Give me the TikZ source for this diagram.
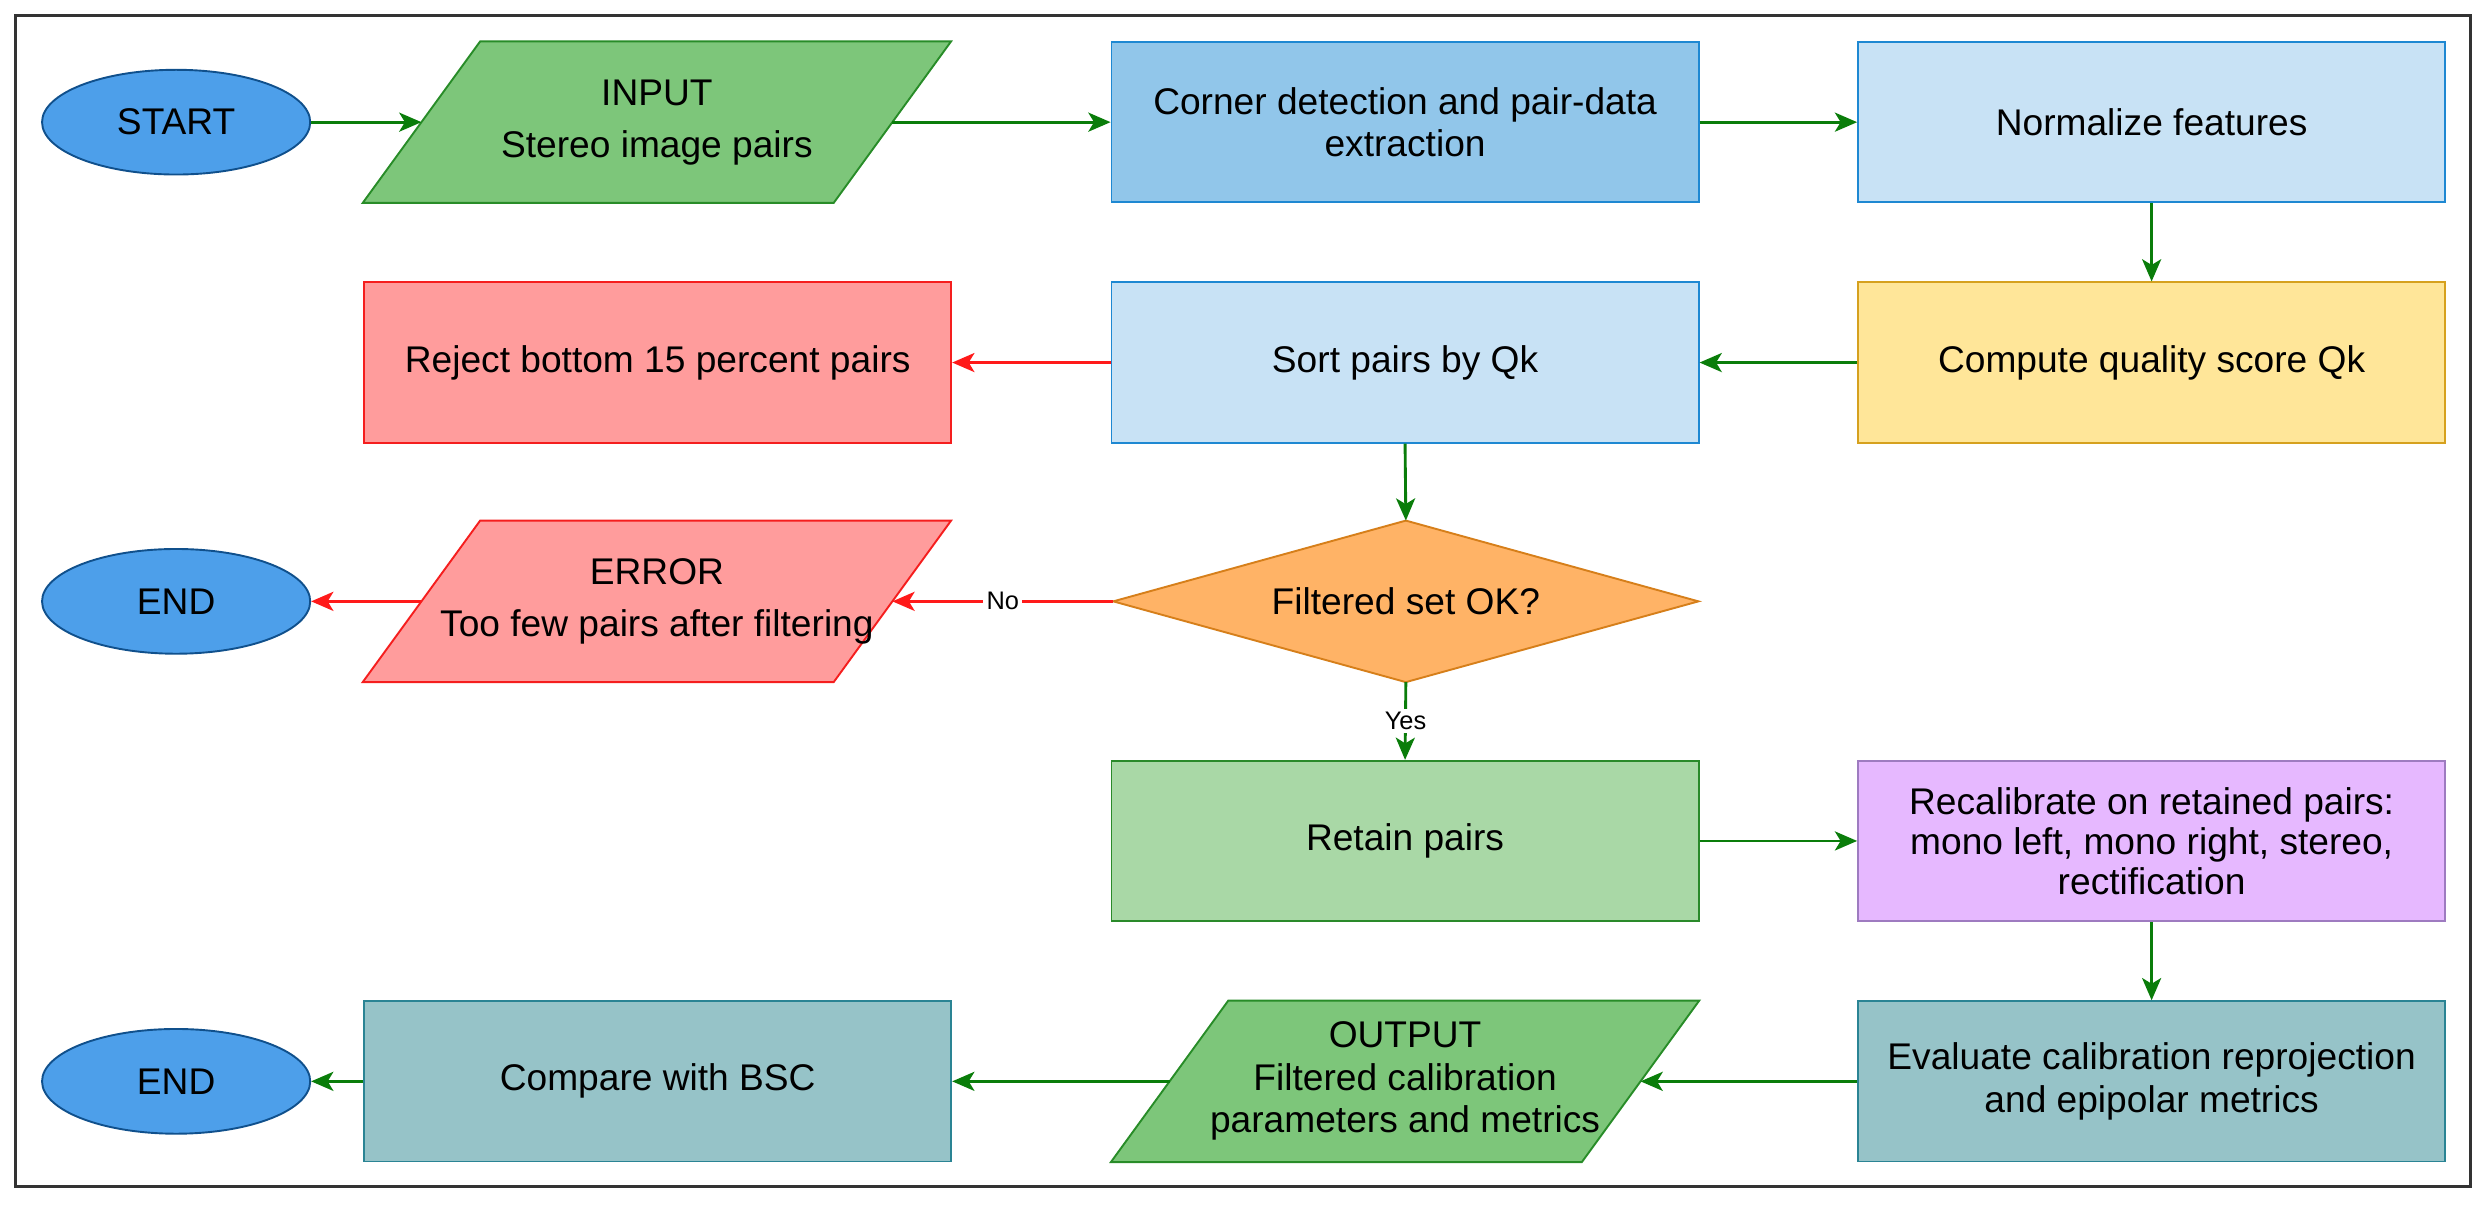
\documentclass[tikz,border=0pt]{standalone}
\usepackage{fontspec}
\setmainfont{Liberation Sans}
\usetikzlibrary{arrows.meta,shapes.geometric,backgrounds}
\definecolor{termfill}{RGB}{77,159,234}
\definecolor{termline}{RGB}{16,80,140}
\definecolor{iofill}{RGB}{125,198,122}
\definecolor{ioline}{RGB}{40,140,40}
\definecolor{cornerfill}{RGB}{145,198,234}
\definecolor{blueline}{RGB}{30,136,210}
\definecolor{lightblue}{RGB}{200,226,245}
\definecolor{yelfill}{RGB}{255,230,153}
\definecolor{yelline}{RGB}{214,161,30}
\definecolor{redfill}{RGB}{255,156,156}
\definecolor{redline}{RGB}{245,30,30}
\definecolor{orafill}{RGB}{255,179,102}
\definecolor{oraline}{RGB}{214,127,26}
\definecolor{retfill}{RGB}{169,216,166}
\definecolor{retline}{RGB}{42,138,42}
\definecolor{purfill}{RGB}{230,184,255}
\definecolor{purline}{RGB}{158,123,192}
\definecolor{tealfill}{RGB}{150,195,200}
\definecolor{tealline}{RGB}{42,132,148}
\definecolor{arrgreen}{RGB}{10,125,10}
\definecolor{arrred}{RGB}{255,26,26}
\begin{document}
\begin{tikzpicture}[x=0.5pt,y=0.5pt,
  font=\fontsize{11.7}{13.4}\selectfont,
  box/.style={rectangle, minimum width=185pt, minimum height=50.5pt, inner sep=2pt, align=center, line width=0.6pt},
  term/.style={ellipse, minimum width=84.5pt, minimum height=33pt, inner sep=0pt, fill=termfill, draw=termline, line width=0.6pt},
  para/.style={rectangle, minimum width=148pt, minimum height=50.5pt, inner sep=0pt, align=center},
  dia/.style={rectangle, minimum width=184pt, minimum height=50.5pt, inner sep=0pt, align=center},
  tip/.style={-{Stealth[length=7pt,width=6pt,inset=1.8pt]}},
  garrow/.style={draw=arrgreen, line width=0.9pt, tip},
  rarrow/.style={draw=arrred, line width=0.9pt, tip},
  lbl/.style={fill=white, inner sep=1pt, font=\fontsize{8}{9}\selectfont}
]
\useasboundingbox (0,0) rectangle (1568,759);
\draw[line width=0.9pt, draw=black!80] (10,11) rectangle (1557,749);

% row 1
\node[term] (start) at (111,682) {START};
\node[para] (in) at (414,682) {INPUT\\[3pt]Stereo image pairs};
\node[box, fill=cornerfill, draw=blueline] (corner) at (885.5,682) {Corner detection and pair-data\\extraction};
\node[box, fill=lightblue, draw=blueline] (norm) at (1356,682) {Normalize features};
% row 2
\node[box, fill=redfill, draw=redline] (reject) at (414.5,530.5) {Reject bottom 15 percent pairs};
\node[box, fill=lightblue, draw=blueline] (sort) at (885.5,530.5) {Sort pairs by Qk};
\node[box, fill=yelfill, draw=yelline] (qual) at (1356,530.5) {Compute quality score Qk};
% row 3
\node[term] (end1) at (111,380) {END};
\node[para] (err) at (414,380) {ERROR\\[3pt]Too few pairs after filtering};
\node[dia] (ok) at (886,380) {Filtered set OK?};
% row 4
\node[box, fill=retfill, draw=retline] (retain) at (885.5,229) {Retain pairs};
\node[box, fill=purfill, draw=purline, font=\fontsize{11.7}{12.6}\selectfont] (recal) at (1356,229) {Recalibrate on retained pairs:\\mono left, mono right, stereo,\\rectification};
% row 5
\node[term] (end2) at (111,77.5) {END};
\node[box, fill=tealfill, draw=tealline] (cmp) at (414.5,77.5) {Compare with BSC};
\node[para] (out) at (885.5,77.5) {OUTPUT\\Filtered calibration\\parameters and metrics};
\node[box, fill=tealfill, draw=tealline] (eval) at (1356,77.5) {Evaluate calibration reprojection\\and epipolar metrics};

\begin{scope}[on background layer]
\filldraw[fill=iofill, draw=ioline, line width=0.6pt]
  ([xshift=-18.5pt]in.south west) -- ([xshift=18.5pt]in.north west) --
  ([xshift=18.5pt]in.north east) -- ([xshift=-18.5pt]in.south east) -- cycle;
\filldraw[fill=redfill, draw=redline, line width=0.6pt]
  ([xshift=-18.5pt]err.south west) -- ([xshift=18.5pt]err.north west) --
  ([xshift=18.5pt]err.north east) -- ([xshift=-18.5pt]err.south east) -- cycle;
\filldraw[fill=iofill, draw=ioline, line width=0.6pt]
  ([xshift=-18.5pt]out.south west) -- ([xshift=18.5pt]out.north west) --
  ([xshift=18.5pt]out.north east) -- ([xshift=-18.5pt]out.south east) -- cycle;
\filldraw[fill=orafill, draw=oraline, line width=0.6pt]
  (ok.west) -- (ok.north) -- (ok.east) -- (ok.south) -- cycle;
\end{scope}

% connectors
\draw[garrow] (start.east) -- (in.west);
\draw[garrow] (in.east) -- (corner.west);
\draw[garrow] (corner.east) -- (norm.west);
\draw[garrow] (norm.south) -- (qual.north);
\draw[garrow] (qual.west) -- (sort.east);
\draw[rarrow] (sort.west) -- (reject.east);
\draw[garrow] (sort.south) -- (ok.north);
\draw[rarrow] (ok.west) -- node[lbl] {No} (err.east);
\draw[rarrow] (err.west) -- (end1.east);
\draw[garrow] (ok.south) -- node[lbl] {Yes} (retain.north);
\draw[garrow] (retain.east) -- (recal.west);
\draw[garrow] (recal.south) -- (eval.north);
\draw[garrow] (eval.west) -- (out.east);
\draw[garrow] (out.west) -- (cmp.east);
\draw[garrow] (cmp.west) -- (end2.east);
\end{tikzpicture}
\end{document}
